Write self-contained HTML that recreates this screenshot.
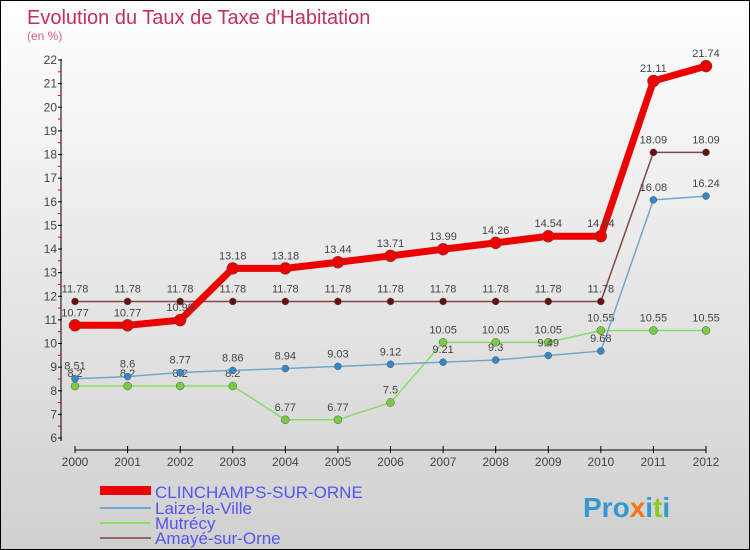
<!DOCTYPE html>
<html><head><meta charset="utf-8"><style>
body{margin:0}
#c{width:750px;height:550px;position:relative;overflow:hidden;font-family:"Liberation Sans",sans-serif}
</style></head><body>
<div id="c">
<svg id="s" width="750" height="550" xmlns="http://www.w3.org/2000/svg">
<defs><linearGradient id="bg" x1="0" y1="0" x2="0" y2="1"><stop offset="0" stop-color="#ffffff"/><stop offset="1" stop-color="#d0d0d0"/></linearGradient></defs>
<rect x="0.5" y="0.5" width="749" height="549" fill="url(#bg)" stroke="#000"/>
<text x="27" y="24" font-size="20" fill="#c03060">Evolution du Taux de Taxe d'Habitation</text>
<text x="27" y="40" font-size="12" fill="#d06080">(en %)</text>
<g id="axes"></g><g id="series"></g>
<g>
<rect x="100" y="486" width="51" height="9" fill="#e00"/>
<text x="155" y="498" font-size="17" fill="#5555ee">CLINCHAMPS-SUR-ORNE</text>
<rect x="100" y="507" width="51" height="2" fill="#6fa8cc"/>
<text x="155" y="514" font-size="17" fill="#5555ee">Laize-la-Ville</text>
<rect x="100" y="522" width="51" height="2" fill="#88dd66"/>
<text x="155" y="529" font-size="17" fill="#5555ee">Mutrécy</text>
<rect x="100" y="537" width="51" height="2" fill="#996666"/>
<text x="155" y="544" font-size="17" fill="#5555ee">Amayé-sur-Orne</text>
</g>
<text x="583" y="517" font-size="28" font-weight="bold" fill="#3399cc">Pro<tspan fill="#ee7711">x</tspan>i<tspan fill="#88cc22">t</tspan>i</text>
</svg>
</div>
<script>
const years=[2000,2001,2002,2003,2004,2005,2006,2007,2008,2009,2010,2011,2012];
const clinchamps=[10.77,10.77,10.99,13.18,13.18,13.44,13.71,13.99,14.26,14.54,14.54,21.11,21.74];
const laize=[8.51,8.6,8.77,8.86,8.94,9.03,9.12,9.21,9.3,9.49,9.68,16.08,16.24];
const mutrecy=[8.2,8.2,8.2,8.2,6.77,6.77,7.5,10.05,10.05,10.05,10.55,10.55,10.55];
const amaye=[11.78,11.78,11.78,11.78,11.78,11.78,11.78,11.78,11.78,11.78,11.78,18.09,18.09];
const yTicks=[6,7,8,9,10,11,12,13,14,15,16,17,18,19,20,21,22];
const NS="http://www.w3.org/2000/svg";
const X=i=>75+i*(631/12);
const Y=v=>60+(22-v)*(378/16);
function mk(p,t,a){const e=document.createElementNS(NS,t);for(const k in a)e.setAttribute(k,a[k]);p.appendChild(e);return e;}
const ax=document.getElementById('axes');
let e=mk(ax,'line',{x1:61,y1:59,x2:61,y2:441,stroke:'#000','stroke-width':1});

yTicks.forEach(v=>{
 mk(ax,'line',{x1:58,x2:62,y1:Y(v),y2:Y(v),stroke:'#000'});
 if(v<22)mk(ax,'line',{x1:58,x2:61,y1:Y(v+0.5),y2:Y(v+0.5),stroke:'#e00'});
 const t=mk(ax,'text',{x:57,y:Y(v)+4,'font-size':12,'text-anchor':'end',fill:'#444'});
 t.textContent=v;
 
});
e=mk(ax,'line',{x1:75,y1:450,x2:706,y2:450,stroke:'#000'});

years.forEach((y,i)=>{
 mk(ax,'line',{x1:X(i),x2:X(i),y1:446,y2:453,stroke:'#000'});
 const t=mk(ax,'text',{x:X(i),y:466,'font-size':12,'text-anchor':'middle',fill:'#444'});
 t.textContent=y;
 
});
const sg=document.getElementById('series');
function draw(name,vals,color,w,r,dot){
 const g=mk(sg,'g',{});
 
 const l=mk(g,'polyline',{points:vals.map((v,i)=>X(i)+','+Y(v)).join(' '),fill:'none',stroke:color,'stroke-width':w,'stroke-linejoin':'round'});
 
 vals.forEach((v,i)=>{
  const c=mk(g,'circle',{cx:X(i),cy:Y(v),r:r,fill:dot,stroke:'#555','stroke-width':0.5});
  
  const t=mk(g,'text',{x:X(i),y:Y(v)-9,'font-size':11,'text-anchor':'middle',fill:'#444'});
  t.textContent=v;
  
 });
}
draw('mutrecy',mutrecy,'#88dd66',1.5,4,'#77cc44');
draw('laize',laize,'#6fa8cc',1.5,3.5,'#3388cc');
draw('amaye',amaye,'#884444',1.5,3.5,'#661111');
draw('clinchamps',clinchamps,'#ee0000',7,6,'#ee0000');
</script>
</body></html>
